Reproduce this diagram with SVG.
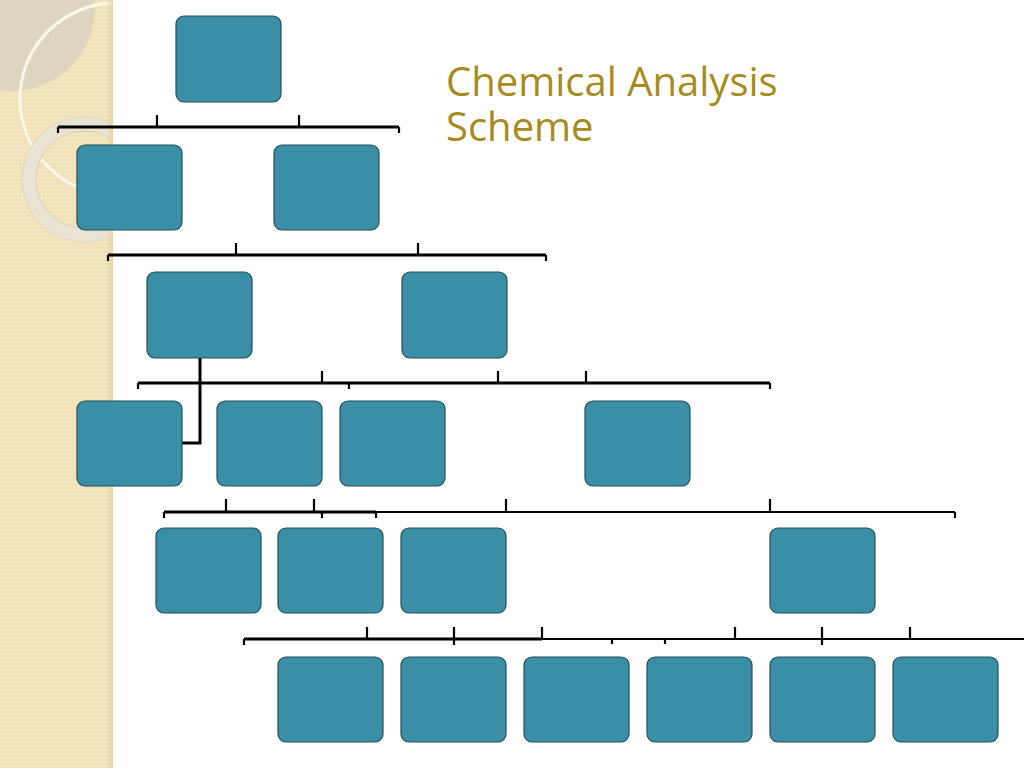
<svg xmlns="http://www.w3.org/2000/svg" width="1024" height="768" viewBox="0 0 1024 768">
  <defs>
    <pattern id="dots" width="4" height="4" patternUnits="userSpaceOnUse">
      <rect width="4" height="4" fill="#f0e1b7"/>
      <circle cx="2" cy="2" r="0.9" fill="#f7eed2"/>
    </pattern>
    <linearGradient id="edge" x1="0" y1="0" x2="1" y2="0">
      <stop offset="0" stop-color="#e3d3a6" stop-opacity="0"/>
      <stop offset="1" stop-color="#e0cf9f" stop-opacity="0.8"/>
    </linearGradient>
    <clipPath id="panelClip">
      <rect x="0" y="0" width="113" height="768"/>
    </clipPath>
    <style>
      .node { fill: #3a8fa6; stroke: #234f5e; stroke-width: 1.2; }
      .conn line, .conn polyline { stroke: #000; stroke-width: 3; fill: none; stroke-linecap: butt; }
      .conn .thin { stroke-width: 2.2; }
      .title { font-family: "Open Sans", "Liberation Sans", sans-serif; font-size: 40px; fill: #a68b1f; }
    </style>
  </defs>

  <rect x="0" y="0" width="1024" height="768" fill="#ffffff"/>

  <g id="background">
    <rect x="0" y="0" width="113" height="768" fill="url(#dots)"/>
    <g clip-path="url(#panelClip)">
      <circle cx="12" cy="8" r="83" fill="#ddd5bf"/>
      <circle cx="116" cy="99" r="96" fill="none" stroke="#fbf7ea" stroke-width="3"/>
      <circle cx="84.5" cy="179.5" r="55.5" fill="none" stroke="#e9e3d4" stroke-width="14"/>
      <circle cx="84.5" cy="179.5" r="62.5" fill="none" stroke="#ddd5c2" stroke-width="1"/>
      <circle cx="84.5" cy="179.5" r="48.5" fill="none" stroke="#d8cfb9" stroke-width="1"/>
    </g>
    <rect x="106" y="0" width="7" height="768" fill="url(#edge)"/>
  </g>

  <g id="title">
    <text class="title" x="446" y="96">Chemical Analysis</text>
    <text class="title" x="446" y="141">Scheme</text>
  </g>

  <g id="connectors" class="conn">
    <!-- level 1 -->
    <line x1="58" y1="127" x2="399" y2="127"/>
    <line x1="157" y1="115" x2="157" y2="127" class="thin"/>
    <line x1="299" y1="115" x2="299" y2="127" class="thin"/>
    <line x1="58" y1="127" x2="58" y2="133" class="thin"/>
    <line x1="399" y1="127" x2="399" y2="133" class="thin"/>
    <!-- level 2 -->
    <line x1="108" y1="255" x2="546" y2="255"/>
    <line x1="236" y1="243" x2="236" y2="255" class="thin"/>
    <line x1="418" y1="243" x2="418" y2="255" class="thin"/>
    <line x1="108" y1="255" x2="108" y2="261" class="thin"/>
    <line x1="546" y1="255" x2="546" y2="261" class="thin"/>
    <!-- level 3 -->
    <line x1="138" y1="383" x2="770" y2="383"/>
    <line x1="322" y1="371" x2="322" y2="383" class="thin"/>
    <line x1="498" y1="371" x2="498" y2="383" class="thin"/>
    <line x1="586" y1="371" x2="586" y2="383" class="thin"/>
    <line x1="138" y1="383" x2="138" y2="389" class="thin"/>
    <line x1="349" y1="383" x2="349" y2="389" class="thin"/>
    <line x1="770" y1="383" x2="770" y2="389" class="thin"/>
    <polyline points="200,358 200,443 182,443"/>
    <!-- level 4 -->
    <line x1="164" y1="512" x2="376" y2="512"/>
    <line x1="322" y1="512" x2="955" y2="512" class="thin"/>
    <line x1="226" y1="499" x2="226" y2="512" class="thin"/>
    <line x1="314" y1="499" x2="314" y2="512" class="thin"/>
    <line x1="506" y1="499" x2="506" y2="512" class="thin"/>
    <line x1="770" y1="499" x2="770" y2="512" class="thin"/>
    <line x1="164" y1="512" x2="164" y2="518" class="thin"/>
    <line x1="322" y1="512" x2="322" y2="518" class="thin"/>
    <line x1="376" y1="512" x2="376" y2="518" class="thin"/>
    <line x1="955" y1="512" x2="955" y2="518" class="thin"/>
    <!-- level 5 -->
    <line x1="244" y1="639" x2="542" y2="639"/>
    <line x1="542" y1="639" x2="1024" y2="639" class="thin"/>
    <line x1="244" y1="639" x2="244" y2="645" class="thin"/>
    <line x1="367" y1="627" x2="367" y2="639" class="thin"/>
    <line x1="454" y1="627" x2="454" y2="645" class="thin"/>
    <line x1="542" y1="627" x2="542" y2="639" class="thin"/>
    <line x1="612" y1="639" x2="612" y2="644" class="thin"/>
    <line x1="665" y1="639" x2="665" y2="644" class="thin"/>
    <line x1="735" y1="627" x2="735" y2="639" class="thin"/>
    <line x1="822" y1="627" x2="822" y2="645" class="thin"/>
    <line x1="910" y1="627" x2="910" y2="639" class="thin"/>
  </g>

  <g id="n0"><rect class="node" x="176" y="16" width="105" height="86" rx="8"/></g>
  <g id="n1a"><rect class="node" x="77" y="145" width="105" height="85" rx="8"/></g>
  <g id="n1b"><rect class="node" x="274" y="145" width="105" height="85" rx="8"/></g>
  <g id="n2a"><rect class="node" x="147" y="272" width="105" height="86" rx="8"/></g>
  <g id="n2b"><rect class="node" x="402" y="272" width="105" height="86" rx="8"/></g>
  <g id="n3a"><rect class="node" x="77" y="401" width="105" height="85" rx="8"/></g>
  <g id="n3b"><rect class="node" x="217" y="401" width="105" height="85" rx="8"/></g>
  <g id="n3c"><rect class="node" x="340" y="401" width="105" height="85" rx="8"/></g>
  <g id="n3d"><rect class="node" x="585" y="401" width="105" height="85" rx="8"/></g>
  <g id="n4a"><rect class="node" x="156" y="528" width="105" height="85" rx="8"/></g>
  <g id="n4b"><rect class="node" x="278" y="528" width="105" height="85" rx="8"/></g>
  <g id="n4c"><rect class="node" x="401" y="528" width="105" height="85" rx="8"/></g>
  <g id="n4d"><rect class="node" x="770" y="528" width="105" height="85" rx="8"/></g>
  <g id="n5a"><rect class="node" x="278" y="657" width="105" height="85" rx="8"/></g>
  <g id="n5b"><rect class="node" x="401" y="657" width="105" height="85" rx="8"/></g>
  <g id="n5c"><rect class="node" x="524" y="657" width="105" height="85" rx="8"/></g>
  <g id="n5d"><rect class="node" x="647" y="657" width="105" height="85" rx="8"/></g>
  <g id="n5e"><rect class="node" x="770" y="657" width="105" height="85" rx="8"/></g>
  <g id="n5f"><rect class="node" x="893" y="657" width="105" height="85" rx="8"/></g>
</svg>
